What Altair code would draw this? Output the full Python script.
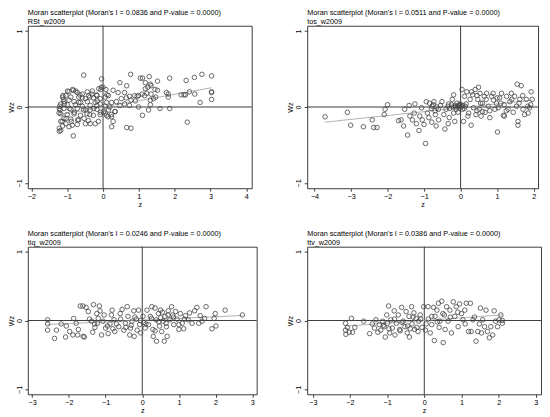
import altair as alt
import pandas as pd

FONT = "Liberation Sans"

titles = [
    "Moran scatterplot (Moran's I = 0.0836 and P-value = 0.0000)",
    "Moran scatterplot (Moran's I = 0.0511 and P-value = 0.0000)",
    "Moran scatterplot (Moran's I = 0.0246 and P-value = 0.0000)",
    "Moran scatterplot (Moran's I = 0.0386 and P-value = 0.0000)",
]
subtitles = ["RSt_w2009", "tos_w2009", "tiq_w2009", "ttv_w2009"]
moran_i = [0.0836, 0.0511, 0.0246, 0.0386]
intercepts = [0.0, -0.01, 0.005, 0.0]
x_domains = [[-2.1, 4.15], [-4.2, 2.12], [-3.12, 3.12], [-3.15, 3.14]]
x_ticks = [[-2, -1, 0, 1, 2, 3, 4], [-4, -3, -2, -1, 0, 1, 2],
           [-3, -2, -1, 0, 1, 2, 3], [-3, -2, -1, 0, 1, 2, 3]]
y_ticks = [-1, 0, 1]
widths = [226, 233, 231, 236]
heights = [164, 164, 149, 149]

# Panel 1: RSt_w2009
p1_z = [1.04, 1.10, 1.29, 1.18, 1.32, 1.52, 1.86, 2.32, 2.55, 2.76, 3.03, 1.18, 1.25, 1.34, 1.45,
        1.52, 0.99, 1.09, 1.16, 1.22, 1.34, 0.95, 1.77, 1.82, 1.82, 2.18, 2.26, 2.30, 2.41, 2.56,
        3.03, 3.03, 3.03, 2.71, 1.32, 1.41, 1.47, 1.32, 1.27, 1.59, 1.86, 0.99, 1.10, 2.35, 0.90,
        -0.54, -0.04, 0.77, 0.47, 0.66, 0.00, -0.06, 0.28, 0.42, 0.60, 0.74, 0.88, 0.51, 0.65, 0.78,
        0.37, 0.24, 0.74, 0.60, 0.47,
        -0.83, -0.95, -0.72, -0.58, -0.40, -0.31, -0.17, -1.04, -1.13, -0.90, -0.68, -0.49, -0.27,
        -0.08, 0.06, 0.15, -1.09, -0.95, -0.81, -0.63, -0.44, -0.22, -0.08, 0.10, -1.18, -1.00,
        -0.77, -0.58, -0.36, -0.17, 0.06, 0.19, -1.22, -1.09, -0.90, -0.72, -0.54, -0.36, -0.17,
        0.01, 0.15, 0.33, -1.18, -1.00, -0.81, -0.63, -0.45, -0.27, -0.08, 0.10, 0.24, -1.09, -0.90,
        -0.68, 0.28, -1.18, -1.04, -0.86, -0.72, -0.49, -0.36, -0.22, -0.13, 0.24, -1.22, -1.13,
        -1.22, -1.18, -0.95, -0.83, 0.66, 0.78,
        -1.12, -1.10, -0.99, -0.85, -0.76, -0.65, -0.58, -0.44, -0.37, -0.30, -0.18, -0.12, -0.05,
        0.08, 0.11, -1.21, -1.20, -1.23, -1.08, -0.94, -0.80, -0.68, -0.48, -0.37, -0.26, -0.16,
        -0.07, 0.06, 0.14, 0.23, 0.34, -1.03, -0.89, -0.71, -0.53, -0.41, -1.14]
p1_wz = [0.38, 0.38, 0.40, 0.32, 0.30, 0.34, 0.38, 0.35, 0.39, 0.43, 0.41, 0.24, 0.26, 0.28, 0.23,
         0.22, 0.15, 0.17, 0.15, 0.18, 0.17, 0.14, 0.19, 0.17, 0.13, 0.16, 0.16, 0.16, 0.20, 0.17,
         0.20, 0.19, 0.10, 0.06, 0.09, 0.11, 0.13, 0.03, -0.04, -0.02, -0.02, 0.00, -0.11, -0.20, 0.08,
         0.42, 0.37, 0.43, 0.32, 0.28, 0.26, 0.23, 0.22, 0.19, 0.19, 0.14, 0.15, 0.11, 0.12, 0.09,
         0.07, 0.06, 0.02, 0.04, 0.02,
         0.22, 0.20, 0.19, 0.17, 0.15, 0.17, 0.15, 0.15, 0.13, 0.13, 0.13, 0.11, 0.12,
         0.11, 0.13, 0.15, 0.07, 0.09, 0.07, 0.06, 0.07, 0.06, 0.04, 0.06, 0.04, 0.03,
         0.03, 0.01, 0.02, 0.02, 0.01, 0.00, -0.02, -0.02, -0.03, -0.02, -0.04, -0.04, -0.03,
         -0.06, -0.04, -0.06, -0.09, -0.10, -0.09, -0.11, -0.09, -0.11, -0.10, -0.11, -0.13, -0.15, -0.16,
         -0.17, -0.19, -0.19, -0.22, -0.24, -0.23, -0.22, -0.22, -0.22, -0.19, -0.26, -0.28, -0.25,
         -0.32, -0.31, -0.26, -0.38, -0.27, -0.28,
         0.15, 0.10, 0.21, 0.23, 0.21, 0.16, 0.12, 0.20, 0.13, 0.21, 0.16, 0.24, 0.26,
         0.23, 0.16, 0.01, -0.04, -0.08, 0.04, -0.02, -0.07, 0.06, -0.04, -0.10, -0.02, 0.08,
         -0.07, -0.08, -0.13, -0.10, -0.06, -0.15, -0.19, -0.17, -0.15, -0.18, -0.19]

# Panel 2: tos_w2009
p2_z = [-3.71, -3.10, -3.01, -2.66, -2.42, -2.38, -2.29, -2.09, -2.07, -2.00, -1.70, -1.63, -1.56,
        -1.53, -1.45, -1.41, -1.39, -1.32, -1.25, -1.27, -1.21, -1.14, -1.12, -1.07, -1.05, -1.00,
        -0.96, -0.94, -0.91, -0.87, -0.79, -0.78, -0.73, -0.69, -0.67, -0.61, -0.60, -0.55, -0.51,
        -0.46, -0.43, -0.40, -0.34, -0.33, -0.31, -0.23, -0.19, -0.19, -0.16, -0.14, -0.10, -0.07,
        -0.05, -0.04, -0.01, 0.04, 0.05, 0.08, 0.11, 0.13, 0.17, 0.22, 0.26, 0.29, 0.33, 0.35, 0.40,
        0.42, 0.47, 0.49, 0.51, 0.53, 0.56, 0.60, 0.65, 0.67, 0.71, 0.76, 0.80, 0.85, 0.89, 0.94,
        0.98, 1.01, 1.03, 1.07, 1.12, 1.17, 1.19, 1.26, 1.30, 1.35, 1.39, 1.44, 1.48, 1.53, 1.55,
        1.57, 1.57, 1.62, 1.66, 1.71, 1.75, 1.80, 1.84, 1.89, 1.93, 1.92, 1.96,
        -0.35, -0.30, -0.25, -0.20, -0.15, -0.12, -0.08, -0.03, 0.02, 0.06, 0.10, 0.15, -0.80,
        -0.75, -0.70, -0.85, -0.65, 0.30, 0.45, 0.55, 0.70, 0.90, 1.10, 1.25, 1.40, 1.60, 1.70,
        1.85, 0.20, 0.45, 0.80, 1.00, 1.20, 0.60]
p2_wz = [-0.13, -0.07, -0.24, -0.26, -0.17, -0.27, -0.27, -0.10, -0.03, 0.03, -0.18, -0.17, -0.25,
         -0.03, -0.37, 0.02, -0.12, -0.17, 0.04, -0.08, -0.22, -0.31, -0.12, -0.01, -0.17, -0.23,
         -0.48, 0.07, -0.08, -0.14, -0.20, 0.01, 0.07, -0.10, -0.25, -0.03, -0.17, 0.02, 0.07,
         -0.10, -0.29, -0.03, -0.22, 0.04, -0.14, 0.10, 0.16, -0.08, -0.19, 0.00, 0.05, -0.07,
         0.02, -0.01, 0.04, 0.23, -0.03, -0.19, 0.14, 0.01, 0.20, -0.08, 0.10, -0.24, 0.16, -0.01, 0.23,
         -0.10, 0.10, 0.26, -0.03, 0.18, -0.12, 0.05, 0.14, -0.07, 0.18, 0.01, -0.14, 0.14, 0.18, -0.03,
         0.05, -0.33, -0.01, 0.12, 0.18, -0.11, 0.03, 0.14, -0.03, 0.07, 0.18, -0.07, 0.14, 0.01, 0.30,
         -0.19, -0.24, 0.10, 0.28, -0.03, -0.10, 0.10, 0.01, -0.01, 0.20, 0.03, 0.10,
         0.01, -0.02, 0.03, 0.00, 0.02, -0.03, 0.01, 0.03, 0.00, 0.02, -0.02, 0.04, -0.02,
         0.03, -0.05, 0.05, 0.00, 0.20, 0.15, 0.05, 0.10, 0.09, 0.05, -0.05, 0.10, 0.05, 0.15,
         -0.08, -0.12, -0.05, -0.05, 0.12, -0.12, -0.06]

# Panel 3: tiq_w2009
p3_z = [-2.58, -2.58, -2.58, -2.39, -2.34, -2.21, -2.09, -2.07, -1.98, -1.89, -1.87, -1.80, -1.76,
        -1.74, -1.69, -1.62, -1.61, -1.58, -1.53, -1.47, -1.44, -1.38, -1.33, -1.35, -1.29, -1.24,
        -1.22, -1.17, -1.15, -1.11, -1.07, -1.04, -1.00, -0.93, -0.88, -0.84, -0.82, -0.77, -0.75,
        -0.70, -0.64, -0.59, -0.55, -0.50, -0.46, -0.41, -0.39, -0.34, -0.32, -0.28, -0.23, -0.22,
        -0.16, -0.14, -0.10, -0.07, -0.04, 0.02, 0.04, 0.08, 0.13, 0.17, 0.22, 0.26, 0.29, 0.30,
        0.35, 0.38, 0.39, 0.44, 0.47, 0.50, 0.53, 0.57, 0.60, 0.62, 0.66, 0.68, 0.71, 0.75, 0.80,
        0.83, 0.86, 0.91, 0.95, 1.00, 1.04, 1.09, 1.13, 1.18, 1.25, 1.29, 1.36, 1.43, 1.49, 1.54,
        1.58, 1.63, 1.74, 1.70, 1.90, 1.96, 1.99, 2.01, 2.26, 2.73,
        -1.30, -1.20, -0.95, -0.60, -0.45, -0.20, -0.05, 0.10, 0.25, 0.45, 0.55, 0.65, 0.70, 0.85,
        1.00, 1.15, 0.35, 0.50, -0.30, -0.80]
p3_wz = [0.01, -0.05, -0.14, -0.26, -0.14, -0.05, -0.24, -0.08, -0.16, -0.21, 0.03, -0.04, -0.21,
         -0.13, 0.21, 0.21, -0.23, -0.24, 0.19, 0.13, 0.02, -0.01, 0.23, -0.17, -0.10, 0.10,
         -0.04, 0.21, 0.14, -0.21, -0.01, 0.08, -0.11, -0.19, -0.05, 0.08, 0.15, 0.01, -0.16,
         -0.05, -0.09, 0.02, 0.16, -0.14, -0.04, 0.20, 0.06, -0.21, -0.11, -0.01, 0.14, -0.23,
         0.02, -0.14, 0.15, -0.06, -0.18, 0.06, -0.03, -0.11, 0.15, -0.06, 0.06, 0.20, -0.13, -0.23,
         0.18, 0.01, -0.30, 0.10, -0.08, 0.15, -0.16, -0.01, -0.30, 0.06, -0.09, -0.23, 0.14, 0.01, 0.20,
         0.08, -0.06, 0.13, 0.02, -0.13, 0.10, -0.04, -0.12, 0.07, 0.01, 0.11, -0.04, 0.14, 0.19, -0.04,
         0.07, -0.01, 0.20, 0.03, -0.12, 0.03, 0.10, -0.08, 0.15, 0.08,
         -0.05, 0.03, -0.08, 0.10, -0.10, 0.05, 0.00, -0.05, 0.03, -0.02, 0.12, -0.04, 0.08, 0.05,
         -0.06, 0.02, -0.15, 0.04, -0.07, -0.12]

# Panel 4: ttv_w2009
p4_z = [-2.12, -2.12, -2.11, -2.07, -2.02, -1.96, -1.93, -1.87, -1.63, -1.47, -1.40, -1.34, -1.30,
        -1.25, -1.21, -1.17, -1.12, -1.08, -1.05, -1.01, -0.99, -0.96, -0.93, -0.90, -0.86, -0.81,
        -0.79, -0.75, -0.70, -0.66, -0.61, -0.57, -0.52, -0.49, -0.46, -0.41, -0.40, -0.34, -0.33,
        -0.28, -0.26, -0.22, -0.17, -0.15, -0.11, -0.06, -0.02, 0.03, 0.10, 0.11, 0.16, 0.20, 0.25,
        0.27, 0.29, 0.34, 0.38, 0.40, 0.42, 0.47, 0.51, 0.54, 0.56, 0.60, 0.64, 0.69, 0.73, 0.78,
        0.82, 0.86, 0.91, 0.95, 1.00, 1.04, 1.09, 1.13, 1.19, 1.24, 1.26, 1.31, 1.39, 1.44, 1.48,
        1.51, 1.54, 1.57, 1.62, 1.66, 1.70, 1.75, 1.79, 1.84, 1.88, 1.92, 1.97, 2.01, 2.06, 2.10, 2.10,
        -1.10, -0.95, -0.80, -0.60, -0.45, -0.30, -0.20, -0.10, 0.05, 0.20, 0.35, 0.50, 0.70, 0.90,
        1.10, 1.35, -0.65, -0.38]
p4_wz = [-0.04, -0.14, -0.20, -0.10, -0.17, 0.03, -0.17, -0.10, -0.01, -0.19, -0.05, -0.11, 0.01,
         -0.17, -0.06, -0.14, -0.01, -0.09, -0.24, 0.08, -0.04, 0.21, -0.18, 0.01, -0.11, 0.14,
         -0.21, -0.04, 0.08, -0.13, 0.19, -0.01, -0.09, 0.13, -0.18, 0.06, -0.24, 0.20, -0.05,
         0.11, -0.13, 0.03, -0.16, -0.01, 0.08, -0.10, 0.20, -0.14, 0.20, 0.02, -0.18, -0.06, 0.19,
         -0.29, 0.06, 0.15, 0.25, -0.10, -0.01, 0.28, -0.32, 0.08, -0.13, 0.20, -0.01, 0.15, -0.18, 0.27,
         0.06, 0.20, -0.09, 0.24, 0.10, 0.01, 0.15, 0.25, -0.16, 0.25, -0.16, 0.01, -0.30, -0.16, -0.05,
         0.18, -0.18, 0.01, -0.09, 0.15, -0.16, -0.25, -0.09, -0.21, 0.14, -0.01, -0.09, 0.01, 0.08, -0.04, 0.00,
         -0.07, -0.12, 0.02, -0.03, -0.08, 0.05, -0.10, 0.02, -0.05, 0.06, -0.02, 0.10, 0.05, 0.12,
         -0.05, 0.05, -0.15, -0.12]

panel_z = [p1_z, p2_z, p3_z, p4_z]
panel_wz = [p1_wz, p2_wz, p3_wz, p4_wz]

DARK = "#3a3a3a"


def panel(i):
    z, wz = panel_z[i], panel_wz[i]
    df = pd.DataFrame({"z": z, "Wz": wz})
    fit = pd.DataFrame({"z": [min(z), max(z)]})
    fit["Wz"] = intercepts[i] + moran_i[i] * fit["z"]
    origin = pd.DataFrame({"z": [0.0], "Wz": [0.0]})

    xs = alt.Scale(domain=x_domains[i], nice=False, zero=False)
    ys = alt.Scale(domain=[-1.07, 1.07], nice=False, zero=False)
    xax = alt.Axis(values=x_ticks[i], title="z", grid=False, domain=False, tickSize=3,
                   tickColor=DARK, labelPadding=1, titlePadding=1.5, format="d")
    yax = alt.Axis(values=y_ticks, title="Wz", grid=False, domain=False, tickSize=3,
                   tickColor=DARK, labelAngle=270, labelAlign="center",
                   labelBaseline="bottom", labelPadding=1.5, titlePadding=0, format="d")
    X = alt.X("z:Q", scale=xs, axis=xax)
    Y = alt.Y("Wz:Q", scale=ys, axis=yax)

    vline = alt.Chart(origin).mark_rule(color=DARK, strokeWidth=1).encode(x=X)
    hline = alt.Chart(origin).mark_rule(color=DARK, strokeWidth=1).encode(y=Y)
    line = alt.Chart(fit).mark_line(color="#aaaaaa", strokeWidth=0.9).encode(x=X, y=Y)
    pts = alt.Chart(df).mark_point(shape="circle", filled=False, size=21, strokeWidth=0.8,
                                   color="#444444", opacity=1).encode(x=X, y=Y)
    return alt.layer(vline, hline, line, pts).properties(
        width=widths[i], height=heights[i],
        title=alt.TitleParams(text=titles[i], subtitle=subtitles[i], anchor="start",
                              frame="group", fontSize=7.3, subtitleFontSize=7.3,
                              font=FONT, subtitleFont=FONT, fontWeight="normal",
                              color="#000000", subtitleColor="#000000", offset=0,
                              subtitlePadding=2),
    )


chart = alt.concat(*[panel(i) for i in range(4)], columns=2,
                   spacing={"row": 59, "column": 51}, bounds="flush", align="each").configure(
    padding={"left": -1, "top": -2, "right": 0, "bottom": 0},
    background="white",
    font=FONT,
).configure_view(stroke=DARK, strokeWidth=1).configure_axis(
    labelFont=FONT, titleFont=FONT, labelFontSize=7.3, titleFontSize=7.3,
    labelColor="black", titleColor="black", titleFontWeight="normal",
)

chart.save("out.html", embed_options={"renderer": "svg", "actions": False})
